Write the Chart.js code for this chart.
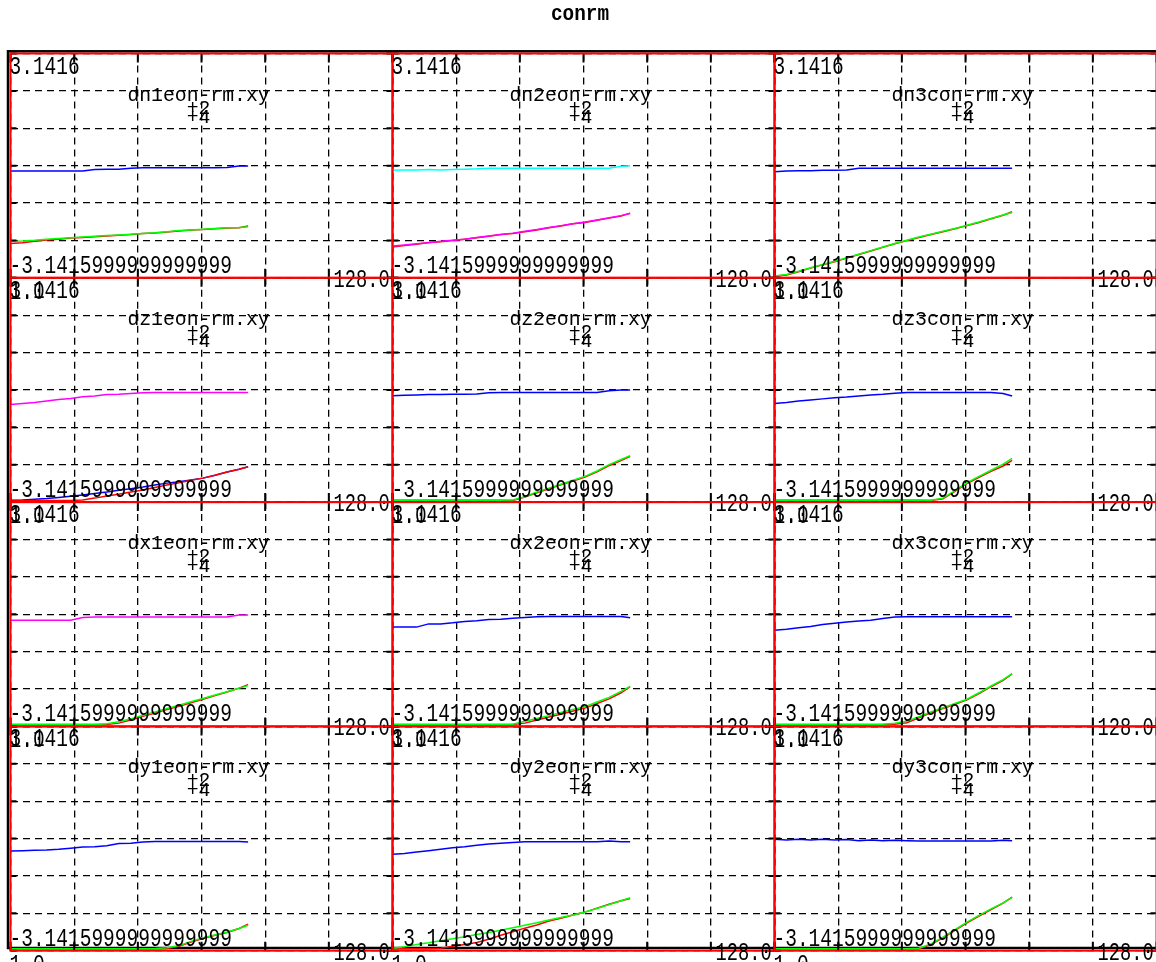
<!DOCTYPE html>
<html>
<head>
<meta charset="utf-8">
<script src="https://cdn.jsdelivr.net/npm/chart.js@4.4.0/dist/chart.umd.min.js"></script>
<style>
  html, body { margin: 0; padding: 0; background: #fff; overflow: hidden; }
  #wrap { position: relative; width: 1156px; height: 962px; overflow: hidden; background: #fff; }
  #wrap canvas { position: absolute; left: 0; top: 0; }
</style>
</head>
<body>
<div id="wrap"></div>
<script>
// ---- labels ----
const PAGE_TITLE = 'conrm';
const Y_MIN = -3.1416, Y_MAX = 3.1416;
const X_MIN = 1, X_MAX = 128;
const Y_TOP_LABEL = '3.1416';
const Y_BOTTOM_LABEL = '-3.1415999999999999';
const X_LEFT_LABEL = '1.0';
const X_RIGHT_LABEL = '128.0';
const SUB_LABELS = ['+2', '+4'];
const PANEL_NAMES = [
  'dn1eon-rm.xy', 'dn2eon-rm.xy', 'dn3con-rm.xy',
  'dz1eon-rm.xy', 'dz2eon-rm.xy', 'dz3con-rm.xy',
  'dx1eon-rm.xy', 'dx2eon-rm.xy', 'dx3con-rm.xy',
  'dy1eon-rm.xy', 'dy2eon-rm.xy', 'dy3con-rm.xy'
];

// ---- sample positions shared by every curve ----
const X = [1, 5, 9, 13, 17, 21, 25, 29, 33, 37, 41, 45, 49, 53, 57, 61, 65, 69, 73, 77, 80];

// ---- dn row ----
const DN1_BLUE  = [-0.15,-0.15,-0.15,-0.15,-0.15,-0.15,-0.15,-0.11,-0.10,-0.10,-0.07,-0.06,-0.06,-0.06,-0.06,-0.06,-0.06,-0.06,-0.05,-0.01,-0.01];
const DN1_RED   = [-2.18,-2.16,-2.12,-2.08,-2.06,-2.03,-2.01,-1.99,-1.97,-1.95,-1.93,-1.90,-1.89,-1.86,-1.83,-1.80,-1.79,-1.77,-1.75,-1.74,-1.69];
const DN1_GREEN = [-2.12,-2.11,-2.09,-2.06,-2.04,-2.02,-2.00,-1.98,-1.96,-1.94,-1.92,-1.90,-1.88,-1.85,-1.82,-1.80,-1.78,-1.76,-1.74,-1.73,-1.71];

const DN2_CYAN    = [-0.13,-0.12,-0.12,-0.11,-0.12,-0.11,-0.10,-0.09,-0.07,-0.07,-0.07,-0.07,-0.07,-0.07,-0.07,-0.07,-0.07,-0.07,-0.07,-0.02,0.00];
const DN2_RED     = [-2.28,-2.24,-2.20,-2.15,-2.13,-2.10,-2.06,-2.02,-1.98,-1.93,-1.90,-1.85,-1.80,-1.74,-1.69,-1.63,-1.59,-1.53,-1.47,-1.41,-1.33];
const DN2_MAGENTA = [-2.25,-2.22,-2.19,-2.16,-2.12,-2.09,-2.06,-2.01,-1.97,-1.93,-1.89,-1.84,-1.79,-1.73,-1.68,-1.63,-1.58,-1.52,-1.46,-1.40,-1.34];

const DN3_BLUE  = [-0.17,-0.15,-0.14,-0.14,-0.13,-0.13,-0.12,-0.07,-0.07,-0.07,-0.07,-0.07,-0.07,-0.07,-0.07,-0.07,-0.07,-0.07,-0.07,-0.07,-0.07];
const DN3_RED   = [-3.10,-3.06,-2.97,-2.87,-2.78,-2.69,-2.59,-2.49,-2.39,-2.29,-2.19,-2.10,-2.01,-1.93,-1.85,-1.77,-1.68,-1.59,-1.49,-1.39,-1.29];
const DN3_GREEN = [-3.09,-3.05,-2.96,-2.86,-2.77,-2.68,-2.58,-2.48,-2.38,-2.28,-2.18,-2.09,-2.00,-1.92,-1.84,-1.76,-1.67,-1.58,-1.48,-1.38,-1.31];

// ---- dz row ----
const DZ1_MAGENTA = [-0.41,-0.38,-0.35,-0.31,-0.27,-0.24,-0.19,-0.17,-0.13,-0.12,-0.10,-0.08,-0.07,-0.07,-0.07,-0.07,-0.07,-0.07,-0.07,-0.07,-0.07];
const DZ1_BLUE    = [-3.09,-3.08,-3.06,-3.04,-3.01,-2.98,-2.94,-2.90,-2.86,-2.81,-2.77,-2.72,-2.66,-2.61,-2.57,-2.52,-2.47,-2.39,-2.30,-2.22,-2.15];
const DZ1_RED     = [-3.10,-3.10,-3.10,-3.10,-3.10,-3.10,-3.08,-3.03,-2.97,-2.92,-2.86,-2.80,-2.73,-2.66,-2.60,-2.53,-2.47,-2.39,-2.30,-2.22,-2.15];

const DZ2_BLUE  = [-0.16,-0.15,-0.14,-0.13,-0.13,-0.12,-0.12,-0.11,-0.08,-0.07,-0.07,-0.07,-0.07,-0.07,-0.07,-0.07,-0.07,-0.07,-0.02,0.00,0.00];
const DZ2_RED   = [-3.09,-3.09,-3.09,-3.09,-3.09,-3.09,-3.09,-3.09,-3.09,-3.09,-3.10,-3.00,-2.88,-2.77,-2.66,-2.55,-2.44,-2.29,-2.12,-1.98,-1.86];
const DZ2_GREEN = [-3.09,-3.09,-3.09,-3.09,-3.09,-3.09,-3.09,-3.09,-3.09,-3.09,-3.08,-2.99,-2.86,-2.75,-2.64,-2.53,-2.42,-2.27,-2.09,-1.95,-1.84];

const DZ3_BLUE  = [-0.38,-0.35,-0.31,-0.28,-0.25,-0.22,-0.20,-0.17,-0.14,-0.12,-0.09,-0.07,-0.07,-0.07,-0.07,-0.07,-0.07,-0.07,-0.07,-0.10,-0.17];
const DZ3_RED   = [-3.09,-3.09,-3.09,-3.09,-3.09,-3.09,-3.09,-3.09,-3.09,-3.09,-3.09,-3.09,-3.09,-3.10,-3.05,-2.84,-2.62,-2.45,-2.28,-2.13,-1.97];
const DZ3_GREEN = [-3.09,-3.09,-3.09,-3.09,-3.09,-3.09,-3.09,-3.09,-3.09,-3.09,-3.09,-3.09,-3.09,-3.09,-3.03,-2.82,-2.60,-2.42,-2.25,-2.08,-1.92];

// ---- dx row ----
const DX1_MAGENTA = [-0.17,-0.17,-0.17,-0.17,-0.17,-0.17,-0.09,-0.08,-0.08,-0.08,-0.08,-0.08,-0.08,-0.08,-0.08,-0.08,-0.08,-0.08,-0.08,-0.02,-0.02];
const DX1_RED     = [-3.09,-3.09,-3.09,-3.09,-3.09,-3.09,-3.09,-3.09,-3.09,-3.05,-2.96,-2.86,-2.77,-2.67,-2.58,-2.48,-2.38,-2.28,-2.18,-2.07,-1.97];
const DX1_GREEN   = [-3.09,-3.09,-3.09,-3.09,-3.09,-3.09,-3.09,-3.09,-3.07,-3.01,-2.93,-2.83,-2.74,-2.64,-2.55,-2.45,-2.36,-2.26,-2.17,-2.07,-2.00];

const DX2_BLUE  = [-0.36,-0.36,-0.36,-0.27,-0.27,-0.24,-0.20,-0.18,-0.15,-0.14,-0.11,-0.09,-0.07,-0.06,-0.06,-0.06,-0.06,-0.06,-0.06,-0.06,-0.10];
const DX2_RED   = [-3.09,-3.09,-3.09,-3.09,-3.09,-3.09,-3.09,-3.09,-3.09,-3.09,-3.09,-3.05,-2.96,-2.88,-2.80,-2.71,-2.63,-2.50,-2.37,-2.20,-2.03];
const DX2_GREEN = [-3.09,-3.09,-3.09,-3.09,-3.09,-3.09,-3.09,-3.09,-3.09,-3.09,-3.08,-3.00,-2.92,-2.84,-2.75,-2.67,-2.59,-2.46,-2.33,-2.16,-2.02];

const DX3_BLUE  = [-0.45,-0.42,-0.38,-0.34,-0.29,-0.25,-0.22,-0.19,-0.17,-0.12,-0.08,-0.07,-0.07,-0.07,-0.07,-0.07,-0.07,-0.07,-0.07,-0.07,-0.07];
const DX3_RED   = [-3.09,-3.09,-3.09,-3.09,-3.09,-3.09,-3.09,-3.09,-3.09,-3.09,-3.08,-3.04,-2.90,-2.76,-2.64,-2.52,-2.40,-2.22,-2.03,-1.85,-1.67];
const DX3_GREEN = [-3.09,-3.09,-3.09,-3.09,-3.09,-3.09,-3.09,-3.09,-3.09,-3.08,-3.05,-3.00,-2.87,-2.74,-2.62,-2.50,-2.38,-2.20,-2.01,-1.83,-1.66];

// ---- dy row ----
const DY1_BLUE  = [-0.35,-0.34,-0.33,-0.32,-0.30,-0.27,-0.24,-0.23,-0.20,-0.14,-0.13,-0.10,-0.08,-0.08,-0.08,-0.08,-0.08,-0.08,-0.08,-0.08,-0.10];
const DY1_RED   = [-3.09,-3.09,-3.09,-3.09,-3.09,-3.09,-3.09,-3.09,-3.09,-3.09,-3.09,-3.09,-3.09,-3.08,-3.02,-2.90,-2.80,-2.71,-2.63,-2.52,-2.40];
const DY1_GREEN = [-3.09,-3.09,-3.09,-3.09,-3.09,-3.09,-3.09,-3.09,-3.09,-3.09,-3.09,-3.09,-3.08,-3.06,-3.00,-2.88,-2.78,-2.70,-2.62,-2.52,-2.43];

const DY2_BLUE  = [-0.44,-0.42,-0.38,-0.34,-0.30,-0.26,-0.23,-0.19,-0.15,-0.13,-0.11,-0.09,-0.09,-0.09,-0.09,-0.09,-0.09,-0.09,-0.07,-0.09,-0.09];
const DY2_RED   = [-3.09,-3.09,-3.09,-3.09,-3.07,-3.02,-2.97,-2.91,-2.82,-2.71,-2.61,-2.51,-2.42,-2.31,-2.23,-2.14,-2.06,-1.95,-1.84,-1.74,-1.68];
const DY2_GREEN = [-3.07,-3.03,-2.97,-2.92,-2.86,-2.81,-2.75,-2.69,-2.63,-2.57,-2.50,-2.43,-2.36,-2.28,-2.21,-2.14,-2.06,-1.96,-1.85,-1.74,-1.66];

const DY3_BLUE  = [-0.02,-0.04,-0.02,-0.04,-0.02,-0.04,-0.03,-0.06,-0.04,-0.06,-0.05,-0.06,-0.07,-0.07,-0.07,-0.07,-0.07,-0.07,-0.07,-0.05,-0.06];
const DY3_RED   = [-3.09,-3.09,-3.09,-3.09,-3.09,-3.09,-3.09,-3.09,-3.09,-3.09,-3.09,-3.09,-3.09,-2.97,-2.78,-2.57,-2.36,-2.17,-1.99,-1.81,-1.64];
const DY3_GREEN = [-3.09,-3.09,-3.09,-3.09,-3.09,-3.09,-3.09,-3.09,-3.09,-3.09,-3.09,-3.09,-3.07,-2.95,-2.76,-2.55,-2.34,-2.15,-1.97,-1.80,-1.65];

const BLUE = '#0000ff', RED = '#ff0000', GREEN = '#00ff00', MAGENTA = '#ff00ff', CYAN = '#00ffff';

// curves per panel, listed bottom layer first
const PANEL_SERIES = [
  [[DN1_BLUE, BLUE], [DN1_RED, RED], [DN1_GREEN, GREEN]],
  [[DN2_CYAN, CYAN], [DN2_RED, RED], [DN2_MAGENTA, MAGENTA]],
  [[DN3_BLUE, BLUE], [DN3_RED, RED], [DN3_GREEN, GREEN]],
  [[DZ1_MAGENTA, MAGENTA], [DZ1_BLUE, BLUE], [DZ1_RED, RED]],
  [[DZ2_BLUE, BLUE], [DZ2_RED, RED], [DZ2_GREEN, GREEN]],
  [[DZ3_BLUE, BLUE], [DZ3_RED, RED], [DZ3_GREEN, GREEN]],
  [[DX1_MAGENTA, MAGENTA], [DX1_RED, RED], [DX1_GREEN, GREEN]],
  [[DX2_BLUE, BLUE], [DX2_RED, RED], [DX2_GREEN, GREEN]],
  [[DX3_BLUE, BLUE], [DX3_RED, RED], [DX3_GREEN, GREEN]],
  [[DY1_BLUE, BLUE], [DY1_RED, RED], [DY1_GREEN, GREEN]],
  [[DY2_BLUE, BLUE], [DY2_RED, RED], [DY2_GREEN, GREEN]],
  [[DY3_BLUE, BLUE], [DY3_RED, RED], [DY3_GREEN, GREEN]]
];

// ---- layout of the 4 x 3 panel grid ----
const CANVAS_W = 1170, CANVAS_H = 980;
const GRID_LEFT = 10.5, GRID_TOP = 53.5, PANEL_W = 382, PANEL_H = 224.3;
const DIVS = 6;

const MONO = '"Liberation Mono", "DejaVu Sans Mono", monospace';
function drawText(ctx, s, x, y, size, sx, align, weight) {
  ctx.save();
  ctx.font = (weight || 'normal') + ' ' + size + 'px ' + MONO;
  ctx.fillStyle = '#000';
  ctx.textBaseline = 'alphabetic';
  ctx.textAlign = align || 'left';
  ctx.translate(x, y);
  ctx.scale(sx, 1);
  ctx.fillText(s, 0, 0);
  ctx.restore();
}

const pageFrame = {
  id: 'pageFrame',
  beforeDraw(chart) {
    const ctx = chart.ctx;
    ctx.save();
    ctx.strokeStyle = '#000';
    ctx.lineWidth = 2.5;
    ctx.strokeRect(8, 51.3, 1160, 896.7);
    ctx.restore();
  },
  afterDraw(chart) {
    drawText(chart.ctx, PAGE_TITLE, 580, 20, 22, 0.88, 'center', 'bold');
  }
};

const panelDecor = {
  id: 'panelDecor',
  afterDatasetsDraw(chart) {
    const { ctx, chartArea: a, scales: { x, y } } = chart;
    ctx.save();
    ctx.strokeStyle = '#000';
    ctx.lineWidth = 2;
    ctx.beginPath();
    x.ticks.forEach(t => {
      const px = x.getPixelForValue(t.value);
      ctx.moveTo(px, a.top); ctx.lineTo(px, a.top + 9);
      ctx.moveTo(px, a.bottom); ctx.lineTo(px, a.bottom - 9);
    });
    y.ticks.forEach(t => {
      const py = y.getPixelForValue(t.value);
      ctx.moveTo(a.left, py); ctx.lineTo(a.left + 6, py);
      ctx.moveTo(a.right, py); ctx.lineTo(a.right - 6, py);
    });
    ctx.stroke();
    ctx.strokeStyle = '#ff0000';
    ctx.lineWidth = 2;
    ctx.strokeRect(a.left, a.top, a.width, a.height);
    ctx.restore();
  },
  afterDraw(chart) {
    const { ctx, chartArea: a } = chart;
    const name = chart.options.plugins.panelDecor.name;
    const fs = 26, fsx = 0.75;
    drawText(ctx, Y_TOP_LABEL, a.left - 1, a.top + 20, fs, fsx);
    drawText(ctx, Y_BOTTOM_LABEL, a.left - 1, a.bottom - 5, fs, fsx);
    drawText(ctx, X_RIGHT_LABEL, a.right - 59, a.bottom + 9, fs, 0.72);
    drawText(ctx, X_LEFT_LABEL, a.left - 1, a.bottom + 21, fs, fsx);
    const cx = a.left + 188;
    drawText(ctx, name, cx, a.top + 47, 21, 0.94, 'center');
    drawText(ctx, SUB_LABELS[0], cx, a.top + 60, 21, 0.94, 'center');
    drawText(ctx, SUB_LABELS[1], cx, a.top + 69.5, 21, 0.94, 'center');
  }
};

const wrap = document.getElementById('wrap');
const xTicks = Array.from({ length: DIVS + 1 }, (_, i) => X_MIN + (X_MAX - X_MIN) * i / DIVS);
const yTicks = Array.from({ length: DIVS + 1 }, (_, i) => Y_MIN + (Y_MAX - Y_MIN) * i / DIVS);

PANEL_NAMES.forEach((name, i) => {
  const row = Math.floor(i / 3), col = i % 3;
  const left = GRID_LEFT + PANEL_W * col;
  const top = GRID_TOP + PANEL_H * row;
  const right = left + PANEL_W, bottom = top + PANEL_H;

  const canvas = document.createElement('canvas');
  canvas.width = CANVAS_W; canvas.height = CANVAS_H;
  canvas.style.width = CANVAS_W + 'px'; canvas.style.height = CANVAS_H + 'px';
  wrap.appendChild(canvas);

  // dataset 0 is painted last, so reverse the bottom-first list
  const datasets = PANEL_SERIES[i].slice().reverse().map(([vals, color]) => ({
    data: X.map((xv, k) => ({ x: xv, y: vals[k] })),
    borderColor: color,
    borderWidth: 1.5,
    pointRadius: 0,
    tension: 0,
    fill: false
  }));

  const axisGrid = { color: '#000', lineWidth: 1.3, drawTicks: false };
  const plugins = [panelDecor];
  if (i === 0) plugins.unshift(pageFrame);

  new Chart(canvas, {
    type: 'line',
    data: { datasets },
    options: {
      responsive: false,
      animation: false,
      events: [],
      devicePixelRatio: 1,
      layout: { padding: { left, top, right: CANVAS_W - right, bottom: CANVAS_H - bottom } },
      plugins: {
        legend: { display: false },
        tooltip: { enabled: false },
        panelDecor: { name }
      },
      scales: {
        x: {
          type: 'linear', min: X_MIN, max: X_MAX,
          afterBuildTicks: s => { s.ticks = xTicks.map(v => ({ value: v })); },
          ticks: { display: false },
          grid: axisGrid,
          border: { display: false, dash: [7, 5] }
        },
        y: {
          type: 'linear', min: Y_MIN, max: Y_MAX,
          afterBuildTicks: s => { s.ticks = yTicks.map(v => ({ value: v })); },
          ticks: { display: false },
          grid: axisGrid,
          border: { display: false, dash: [7, 5] }
        }
      }
    },
    plugins
  });
});
</script>
</body>
</html>
